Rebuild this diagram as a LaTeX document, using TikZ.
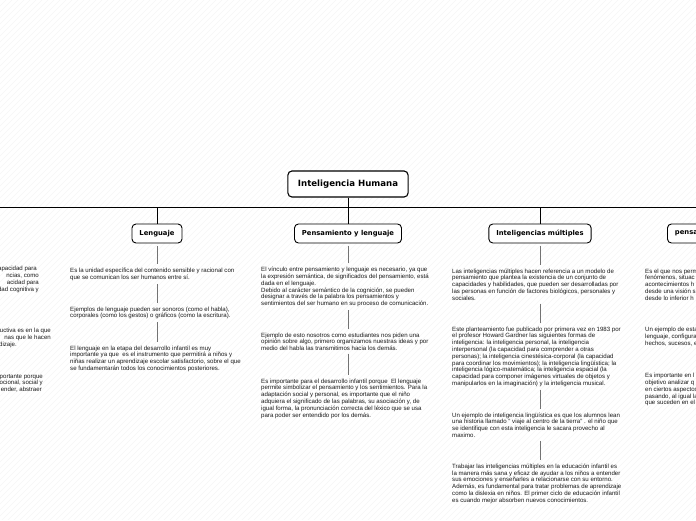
\documentclass[tikz,border=0pt]{standalone}
\usepackage{fontspec}
\setmainfont{Liberation Sans}
\newfontfamily\titlefont{DejaVu Sans}
\usetikzlibrary{positioning}

\begin{document}
\begin{tikzpicture}[x=1pt,y=-1pt,
    topic/.style={draw=black,line width=0.9pt,rounded corners=4pt,fill=white,
        font=\titlefont\bfseries\fontsize{6.8}{8}\selectfont,inner xsep=7.5pt,minimum height=19pt},
    central/.style={topic,line width=1.1pt,font=\titlefont\bfseries\fontsize{8.6}{10}\selectfont,
        inner xsep=10pt,minimum height=26pt},
    note/.style={align=left,inner sep=0pt,anchor=north west,text=black!90,
        font=\fontsize{6.1}{6.8}\selectfont},
    cutnote/.style={note,align=right,anchor=north east},
    tree/.style={draw=black,line width=0.7pt},
    link/.style={draw=black!55,line width=0.6pt,shorten <=3pt,shorten >=4pt},
    stripe/.style={draw=black!6,line width=0.3pt}]
    \path[use as bounding box,clip] (0,0) rectangle (696,520);
    \fill[white] (0,0) rectangle (696,520);
    \foreach \i in {0,6,...,1220}
        \draw[stripe] (\i-520,520) -- (\i,0);

    % main topic and branches
    \node[central] (root) at (348,184) {Inteligencia Humana};
    \coordinate (busL) at (0,207);
    \coordinate (busR) at (696,207);
    \coordinate (bus) at (348,207);
    \draw[tree] (busL) -- (busR);
    \draw[tree] (root.south) -- (bus);
    \node[topic] (leng) at (157,233.5) {Lenguaje};
    \node[topic] (pens) at (348,233.5) {Pensamiento y lenguaje};
    \node[topic] (multi) at (540,233.5) {Inteligencias múltiples};
    \node[topic,anchor=west,text width=52pt,align=left] (crit) at (667,233.5) {pensa};
    \foreach \t in {leng,pens,multi}
        \draw[tree] (\t.north |- bus) -- (\t.north);

    % left column (cut off)
    \node[cutnote] (a1) at (39,266) {apacidad para\hspace*{2pt}\\ncias, como\hspace*{7pt}\\acidad para\hspace*{6pt}\\dad cognitiva y};
    \node[cutnote] (a2) at (51,328) {uctiva es en la que\\nas que le hacen\hspace*{6pt}\\dizaje.\hspace*{34pt}};
    \node[cutnote] (a3) at (43,374) {portante porque\\ocional, social y\hspace*{1pt}\\ender, abstraer\hspace*{1pt}};

    % Lenguaje
    \node[note] (l1) at (70,268) {Es la unidad específica del contenido sensible y racional con\\que se comunican los ser humanos entre sí.};
    \node[note] (l2) at (70,306.5) {Ejemplos de lenguaje pueden ser sonoros (como el habla),\\corporales (como los gestos) o gráficos (como la escritura).};
    \node[note] (l3) at (70,345.5) {El lenguaje en la etapa del desarrollo infantil es muy\\importante ya que~ es el instrumento que permitirá a niños y\\niñas realizar un aprendizaje escolar satisfactorio, sobre el que\\se fundamentarán todos los conocimientos posteriores.};
    \draw[link] (leng.south) -- (leng.south |- l1.north);
    \draw[link] (leng.south |- l1.south) -- (leng.south |- l2.north);
    \draw[link] (leng.south |- l2.south) -- (leng.south |- l3.north);

    % Pensamiento y lenguaje
    \node[note] (p1) at (261,267) {El vínculo entre pensamiento y lenguaje es necesario, ya que\\la expresión semántica, de significados del pensamiento, está\\dada en el lenguaje.\\Debido al carácter semántico de la cognición, se pueden\\designar a través de la palabra los pensamientos y\\sentimientos del ser humano en su proceso de comunicación.};
    \node[note] (p2) at (261,332.5) {Ejemplo de esto nosotros como estudiantes nos piden una\\opinión sobre algo, primero organizamos nuestras ideas y por\\medio del habla las transmitimos hacia los demás.};
    \node[note] (p3) at (261,378.5) {Es importante para el desarrollo infantil porque~ El lenguaje\\permite simbolizar el pensamiento y los sentimientos. Para la\\adaptación social y personal, es importante que el niño\\adquiera el significado de las palabras, su asociación y, de\\igual forma, la pronunciación correcta del léxico que se usa\\para poder ser entendido por los demás.};
    \draw[link] (pens.south) -- (pens.south |- p1.north);
    \draw[link] (pens.south |- p1.south) -- (pens.south |- p2.north);
    \draw[link] (pens.south |- p2.south) -- (pens.south |- p3.north);

    % Inteligencias multiples
    \node[note] (m1) at (452,268.5) {Las inteligencias múltiples hacen referencia a un modelo de\\pensamiento que plantea la existencia de un conjunto de\\capacidades y habilidades, que pueden ser desarrolladas por\\las personas en función de factores biológicos, personales y\\sociales.};
    \node[note] (m2) at (452,326.5) {Este planteamiento fue publicado por primera vez en 1983 por\\el profesor Howard Gardner las siguientes formas de\\inteligencia: la inteligencia personal, la inteligencia\\interpersonal (la capacidad para comprender a otras\\personas); la inteligencia cinestésica-corporal (la capacidad\\para coordinar los movimientos); la inteligencia lingüística; la\\inteligencia lógico-matemática; la inteligencia espacial (la\\capacidad para componer imágenes virtuales de objetos y\\manipularlos en la imaginación) y la inteligencia musical.};
    \node[note] (m3) at (452,412.5) {Un ejemplo de inteligencia lingüística es que los alumnos lean\\una historia llamado " viaje al centro de la tierra" . el niño que\\se identifique con esta inteligencia le sacara provecho al\\maximo.};
    \node[note] (m4) at (452,463.5) {Trabajar las inteligencias múltiples en la educación infantil es\\la manera más sana y eficaz de ayudar a los niños a entender\\sus emociones y enseñarles a relacionarse con su entorno.\\Además, es fundamental para tratar problemas de aprendizaje\\como la dislexia en niños. El primer ciclo de educación infantil\\es cuando mejor absorben nuevos conocimientos.};
    \draw[link] (multi.south) -- (multi.south |- m1.north);
    \draw[link] (multi.south |- m1.south) -- (multi.south |- m2.north);
    \draw[link] (multi.south |- m2.south) -- (multi.south |- m3.north);
    \draw[link] (multi.south |- m3.south) -- (multi.south |- m4.north);

    % right column (cut off)
    \node[note] (c1) at (645,268.5) {Es el que nos perm\\fenómenos, situac\\acontecimientos h\\desde una visión s\\desde lo inferior h};
    \node[note] (c2) at (645,327) {Un ejemplo de esta\\lenguaje, configura\\hechos, sucesos, e};
    \node[note] (c3) at (645,373) {Es importante en l\\objetivo analizar q\\en ciertos aspectos\\pasando, al igual la\\que suceden en el};
\end{tikzpicture}
\end{document}
